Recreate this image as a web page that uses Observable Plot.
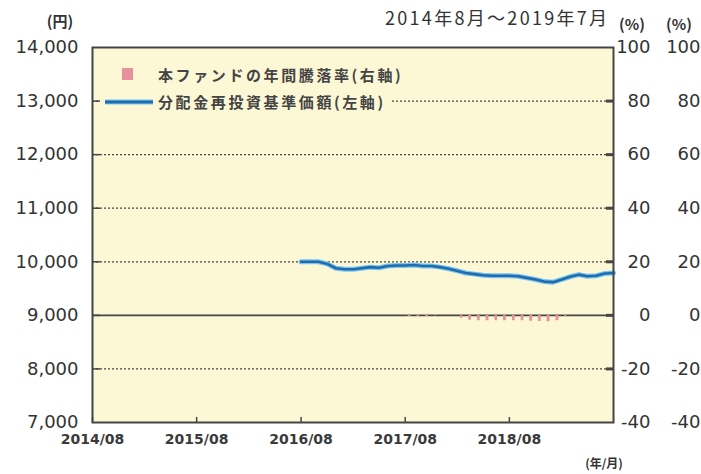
<!DOCTYPE html>
<html><head><meta charset="utf-8">
<script src="https://cdn.jsdelivr.net/npm/d3@7"></script>
<script src="https://cdn.jsdelivr.net/npm/@observablehq/plot@0.6"></script>
<style>body{margin:0;background:#fff} svg{display:block}</style>
</head><body><div id="chart"></div>
<script>
// ---- data ----
const navDates = ["2016-08","2016-09","2016-10","2016-11","2016-12","2017-01","2017-02","2017-03","2017-04","2017-05","2017-06","2017-07",
  "2017-08","2017-09","2017-10","2017-11","2017-12","2018-01","2018-02","2018-03","2018-04","2018-05","2018-06","2018-07",
  "2018-08","2018-09","2018-10","2018-11","2018-12","2019-01","2019-02","2019-03","2019-04","2019-05","2019-06","2019-07","2019-08"];
const navValues = [10000,10000,10000,9960,9880,9860,9860,9880,9900,9890,9920,9930,
  9930,9940,9920,9920,9900,9870,9830,9790,9770,9750,9740,9740,
  9740,9730,9700,9670,9630,9620,9670,9720,9760,9730,9740,9780,9790];
const rateDates = ["2017-08","2017-09","2017-10","2017-11","2017-12","2018-01","2018-02","2018-03","2018-04","2018-05","2018-06","2018-07",
  "2018-08","2018-09","2018-10","2018-11","2018-12","2019-01","2019-02","2019-03"];
const rateValues = [-0.4,-0.4,-0.4,-0.2,0,0,-1.2,-1.8,-2.0,-2.0,-2.0,-2.0,
  -2.0,-2.0,-2.2,-2.3,-2.4,-2.0,-0.5,0];
const yenTicks = [7000,8000,9000,10000,11000,12000,13000,14000];
const xTickDates = ["2014-08","2015-08","2016-08","2017-08","2018-08"];
const xDomain = ["2014-08","2019-08"];
const legendLabels = ["本ファンドの年間騰落率(右軸)","分配金再投資基準価額(左軸)"];
const periodLabel = "2014年8月～2019年7月";

// ---- helpers ----
const parse = d3.utcParse("%Y-%m");
const pctToYen = p => 9000 + p * 50;   // right axis: 0% ↔ 9,000円, 20% ↔ 1,000円
const nav = navDates.map((d, i) => ({date: parse(d), v: navValues[i]}));
const rates = rateDates.map((d, i) => ({date: parse(d), v: rateValues[i]}));
const xt = xTickDates.map(parse);
const gridTicks = yenTicks.filter(d => d !== 7000 && d !== 14000 && d !== 9000);
const innerTicks = yenTicks.filter(d => d !== 7000 && d !== 14000);
const dark = "#454545";
const bg = "#fcf8d6";
const numFont = "'DejaVu Sans', sans-serif";

const chart = Plot.plot({
  width: 701, height: 474,
  marginLeft: 92, marginRight: 88, marginTop: 47, marginBottom: 52,
  style: {fontFamily: numFont, color: "#3a3a3a", background: "#fff"},
  x: {type: "utc", domain: xDomain.map(parse), label: null},
  y: {domain: [7000, 14000], label: null},
  marks: [
    Plot.frame({fill: bg, stroke: null}),
    Plot.ruleY(gridTicks, {stroke: dark, strokeWidth: 1.2, strokeDasharray: "2,2"}),
    Plot.ruleY([9000], {stroke: dark, strokeWidth: 1.6}),
    Plot.rectY(rates, {x: "date", interval: "month", y1: 9000, y2: d => pctToYen(d.v), fill: "#e88fa0", insetLeft: 3, insetRight: 3}),
    Plot.line(nav, {x: "date", y: "v", stroke: "#7cc4ea", strokeWidth: 5}),
    Plot.line(nav, {x: "date", y: "v", stroke: "#1f6cb0", strokeWidth: 2.6}),
    // left axis
    Plot.axisY(yenTicks, {anchor: "left", label: null, tickSize: 0, tickPadding: 14, tickFormat: d3.format(","), fontSize: 18, fill: "#333"}),
    Plot.axisY(innerTicks, {anchor: "left", label: null, tickSize: -8, strokeWidth: 1.5, stroke: dark, tickFormat: () => ""}),
    // right axis (two identical columns)
    Plot.axisY(yenTicks, {anchor: "right", label: null, tickSize: 0, tickPadding: 0, dx: 37, textAnchor: "end", tickFormat: d => String((d - 9000) / 50), fontSize: 18, fill: "#333"}),
    Plot.axisY(yenTicks, {anchor: "right", label: null, tickSize: 0, tickPadding: 0, dx: 87, textAnchor: "end", tickFormat: d => String((d - 9000) / 50), fontSize: 18, fill: "#333"}),
    Plot.axisY(innerTicks, {anchor: "right", label: null, tickSize: -8, strokeWidth: 3, stroke: dark, tickFormat: () => ""}),
    // bottom axis
    Plot.axisX(xt, {anchor: "bottom", label: null, tickSize: -5, strokeWidth: 1.5, stroke: dark, tickFormat: () => ""}),
    Plot.axisX(xt, {anchor: "bottom", label: null, tickSize: 0, tickPadding: 12, tickFormat: d3.utcFormat("%Y/%m"), fontSize: 14, fontWeight: "bold", fill: "#3a3a3a"}),
    Plot.frame({stroke: dark, strokeWidth: 2})
  ]
});
document.getElementById("chart").appendChild(chart);

// ---- annotations & legend ----
const svg = d3.select(chart);
const cjk = "'Noto Sans CJK JP', sans-serif";
function label(x, y, text, opts = {}) {
  svg.append("text").attr("x", x).attr("y", y).text(text)
    .attr("font-family", opts.font || cjk)
    .attr("font-size", opts.size || 15)
    .attr("font-weight", opts.weight || "normal")
    .attr("letter-spacing", opts.ls || 0)
    .attr("text-anchor", opts.anchor || "start")
    .attr("fill", opts.fill || "#333");
}
label(60, 27, "(円)", {anchor: "middle", weight: "bold", size: 15});
label(385, 25, periodLabel, {size: 18, ls: 2.3});
label(632, 30, "(%)", {anchor: "middle", weight: "bold", size: 15});
label(679, 30, "(%)", {anchor: "middle", weight: "bold", size: 15});
label(604, 468, "(年/月)", {anchor: "middle", weight: "bold", size: 12});

// legend
svg.append("rect").attr("x", 100).attr("y", 60).attr("width", 292).attr("height", 52).attr("fill", bg);
svg.append("rect").attr("x", 122).attr("y", 68).attr("width", 11).attr("height", 12).attr("fill", "#e88fa0");
svg.append("line").attr("x1", 105).attr("x2", 153).attr("y1", 102).attr("y2", 102).attr("stroke", "#7cc4ea").attr("stroke-width", 5);
svg.append("line").attr("x1", 105).attr("x2", 153).attr("y1", 102).attr("y2", 102).attr("stroke", "#1f6cb0").attr("stroke-width", 3);
label(158, 81, legendLabels[0], {size: 15, ls: 2.6, weight: "bold", fill: "#444"});
label(158, 108, legendLabels[1], {size: 15, ls: 2.6, weight: "bold", fill: "#444"});
</script>
</body></html>
